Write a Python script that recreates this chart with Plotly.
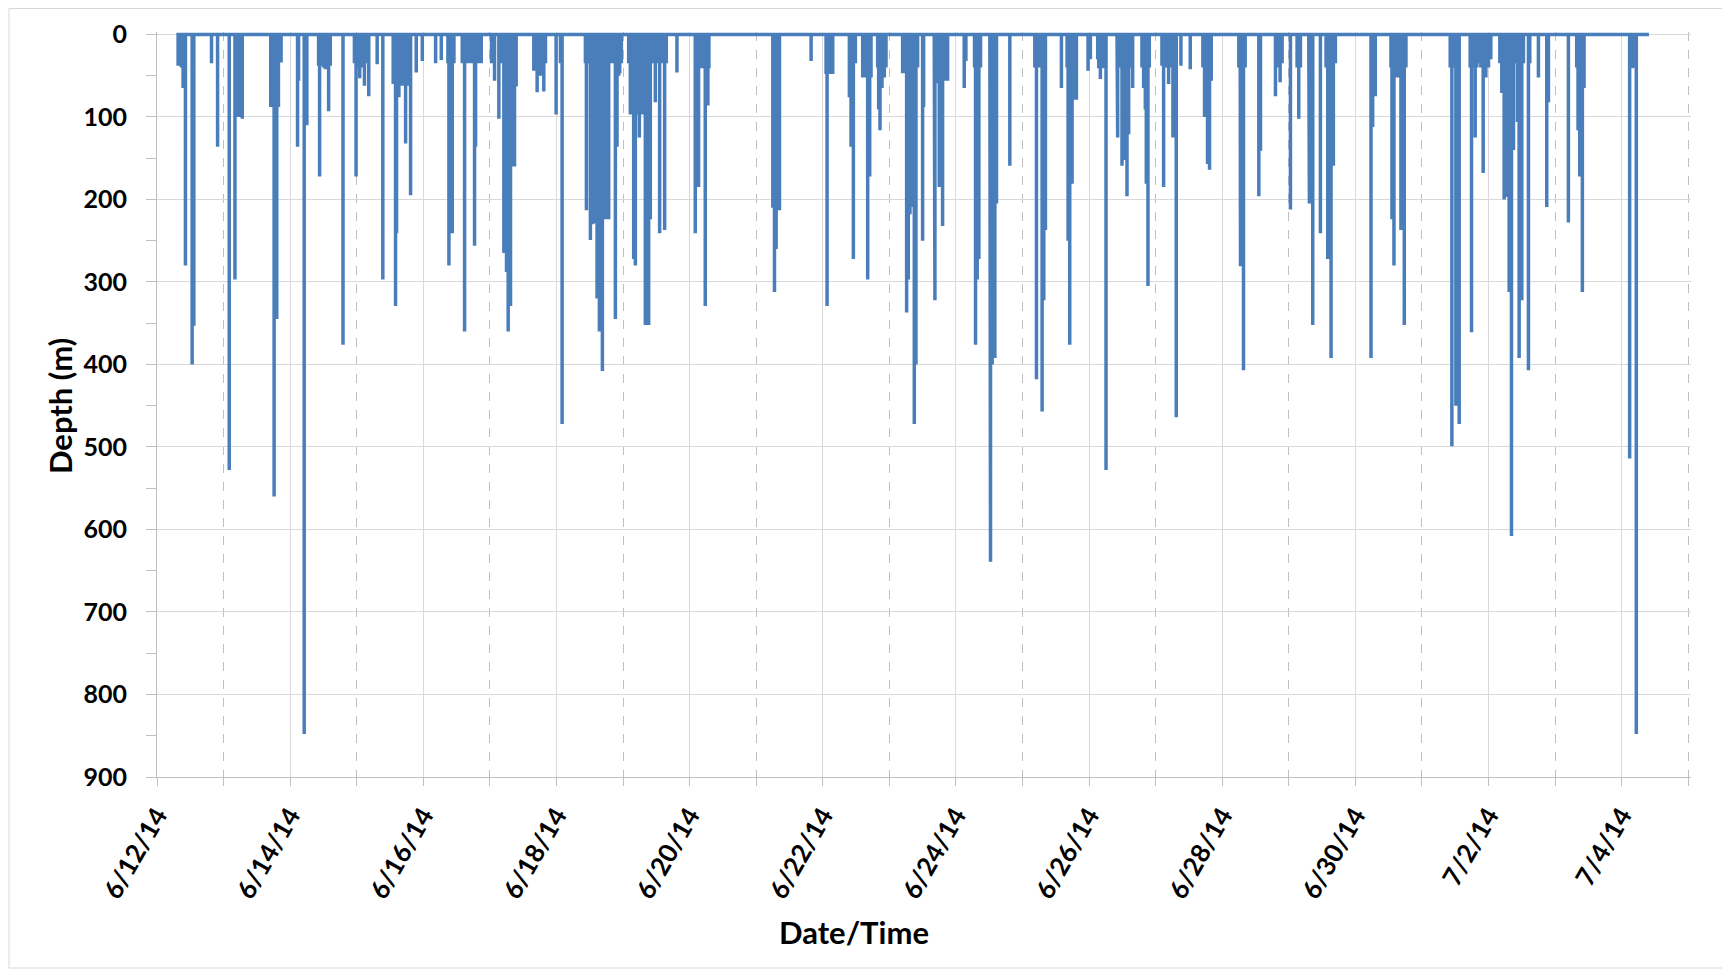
import pandas as pd
import plotly.graph_objects as go

# ---------------- data ----------------
start_date = "2014-06-12"
record_start_day = 0.30      # first surface sample (days after start_date)
record_end_day = 22.41       # last surface sample

# dive times (days after 6/12/14 00:00) and max depth of each dive (m)
dive_day = [
    0.317, 0.342, 0.367, 0.392, 0.412, 0.427, 0.528, 0.553, 0.819, 0.910,
    1.085, 1.171, 1.196, 1.226, 1.256, 1.281, 1.709, 1.734, 1.759, 1.799,
    1.824, 1.864, 2.111, 2.126, 2.211, 2.251, 2.427, 2.442, 2.477, 2.503,
    2.528, 2.553, 2.578, 2.603, 2.794, 2.965, 2.990, 3.015, 3.045, 3.080,
    3.116, 3.146, 3.181, 3.307, 3.392, 3.548, 3.583, 3.598, 3.633, 3.668,
    3.698, 3.734, 3.759, 3.809, 3.894, 3.985,
    4.185, 4.270, 4.370, 4.385, 4.410, 4.435, 4.460, 4.585, 4.620, 4.650,
    4.685, 4.710, 4.740, 4.770, 4.785, 4.810, 4.840, 4.870, 5.025, 5.070,
    5.135, 5.160, 5.185, 5.210, 5.250, 5.275, 5.310, 5.340, 5.370, 5.395,
    5.660, 5.685, 5.710, 5.735, 5.760, 5.785, 5.810, 5.835, 5.995, 6.060,
    6.085, 6.435, 6.450, 6.475, 6.485, 6.510, 6.535, 6.560, 6.585, 6.610,
    6.645, 6.665, 6.690, 6.725, 6.760, 6.785, 6.810, 6.860, 6.885, 6.910,
    6.935, 6.950, 6.975, 7.085, 7.110, 7.135, 7.160, 7.185, 7.210, 7.245,
    7.270, 7.300, 7.335, 7.360, 7.385, 7.410, 7.435, 7.485, 7.510, 7.550,
    7.585, 7.625, 7.650, 7.810, 8.085, 8.135,
    8.175, 8.200, 8.235, 8.260, 8.275, 8.290, 9.250, 9.275, 9.300, 9.325,
    9.350, 9.825, 10.050, 10.065, 10.090, 10.120, 10.150, 10.400, 10.425, 10.460,
    10.490, 10.600, 10.625, 10.650, 10.675, 10.705, 10.725, 10.825, 10.840, 10.860,
    10.890, 10.925, 10.950, 11.200, 11.225, 11.240, 11.260, 11.285, 11.310, 11.340,
    11.375, 11.400, 11.425, 11.500, 11.515, 11.675, 11.685, 11.710, 11.725, 11.750,
    11.775, 11.800, 11.825, 11.850, 11.875, 12.125, 12.150,
    12.280, 12.295, 12.320, 12.345, 12.370, 12.510, 12.520, 12.545, 12.570, 12.585,
    12.610, 12.810, 13.185, 13.210, 13.235, 13.270, 13.295, 13.320, 13.345, 13.585,
    13.670, 13.685, 13.710, 13.745, 13.770, 13.795, 13.810, 13.985, 14.020, 14.130,
    14.145, 14.170, 14.210, 14.255, 14.420, 14.430, 14.470, 14.495, 14.520, 14.545,
    14.570, 14.595, 14.620, 14.655, 14.795, 14.820, 14.845, 14.860, 14.885, 14.905,
    15.095, 15.120, 15.160, 15.195, 15.245, 15.260, 15.285, 15.310, 15.380, 15.520,
    15.710, 15.735, 15.760, 15.780, 15.810, 15.835, 16.270,
    16.250, 16.275, 16.300, 16.320, 16.345, 16.550, 16.575, 16.800, 16.835, 16.870,
    16.900, 17.025, 17.125, 17.150, 17.175, 17.300, 17.310, 17.335, 17.360, 17.475,
    17.560, 17.585, 17.610, 17.635, 17.670, 17.700, 18.235, 18.260, 18.300, 18.535,
    18.550, 18.580, 18.610, 18.635, 18.660, 18.685, 18.710, 18.735, 18.760, 19.425,
    19.450, 19.480, 19.510, 19.535, 19.560, 19.725, 19.745, 19.775, 19.800, 19.825,
    19.850, 19.885, 19.920, 19.960, 20.000, 20.035, 20.170, 20.235,
    20.185, 20.200, 20.285, 20.310, 20.345, 20.375, 20.420, 20.435, 20.460, 20.500,
    20.525, 20.600, 20.620, 20.750, 20.875, 20.900, 21.200, 21.325, 21.345, 21.370,
    21.410, 21.435, 22.120, 22.160, 22.185, 22.220,
]
dive_depth = [
    38, 38, 40, 65, 65, 280, 400, 353, 35, 136,
    528, 297, 100, 100, 100, 102, 88, 88, 560, 345,
    88, 34, 136, 56, 848, 110, 38, 172, 38, 40,
    42, 42, 93, 38, 376, 35, 172, 40, 53, 40,
    62, 35, 75, 36, 297, 60, 329, 241, 76, 62,
    62, 132, 62, 195, 46, 32,
    35, 31, 35, 280, 35, 241, 35, 35, 360, 35,
    35, 35, 35, 256, 136, 35, 35, 35, 35, 56,
    102, 35, 35, 265, 288, 360, 329, 160, 160, 63,
    44, 44, 70, 44, 50, 44, 69, 35, 97, 35,
    472, 35, 213, 35, 35, 249, 230, 229, 229, 320,
    360, 360, 408, 224, 224, 224, 35, 35, 345, 136,
    50, 47, 35, 35, 97, 97, 272, 280, 97, 125,
    97, 97, 352, 352, 352, 224, 35, 82, 35, 241,
    35, 237, 35, 46, 241, 185,
    41, 41, 329, 86, 86, 41, 210, 312, 260, 213,
    213, 32, 48, 329, 48, 48, 48, 76, 136, 272,
    35, 52, 52, 52, 297, 172, 52, 40, 91, 116,
    65, 52, 40, 47, 47, 47, 337, 297, 218, 209,
    472, 400, 40, 250, 88, 40, 322, 59, 59, 185,
    59, 232, 56, 56, 56, 65, 32,
    40, 376, 297, 272, 40, 40, 639, 400, 40, 392,
    205, 159, 40, 418, 40, 40, 457, 322, 237, 65,
    40, 250, 376, 181, 79, 79, 79, 44, 30, 30,
    41, 54, 41, 528, 40, 125, 40, 159, 152, 40,
    196, 121, 40, 65, 40, 65, 91, 181, 305, 40,
    38, 185, 40, 60, 40, 125, 100, 464, 38, 42,
    40, 100, 100, 157, 164, 56, 165,
    40, 281, 40, 407, 40, 196, 141, 75, 40, 58,
    35, 212, 40, 102, 40, 40, 205, 40, 352, 241,
    40, 272, 40, 392, 159, 35, 392, 112, 75, 40,
    224, 280, 52, 52, 52, 237, 52, 352, 40, 40,
    499, 40, 450, 40, 472, 40, 361, 40, 125, 40,
    35, 40, 168, 52, 40, 30, 35, 200,
    35, 71, 197, 312, 608, 140, 35, 106, 392, 322,
    35, 407, 35, 52, 209, 82, 228, 40, 116, 172,
    312, 65, 514, 41, 40, 848,
]

x_range = ["2014-06-12", "2014-07-05 01:00"]
y_ticks = [0, 100, 200, 300, 400, 500, 600, 700, 800, 900]
x_title = "Date/Time"
y_title = "Depth (m)"

# ---------------- build the depth trace ----------------
t0 = pd.Timestamp(start_date)
dives = sorted(zip(dive_day, dive_depth))
xs = [t0 + pd.to_timedelta(record_start_day, unit="D")]
ys = [0]
for d, depth in dives:
    t = t0 + pd.to_timedelta(d, unit="D")
    xs += [t, t, t]
    ys += [0, depth, 0]
xs.append(t0 + pd.to_timedelta(record_end_day, unit="D"))
ys.append(0)

DAY_MS = 86400000
FONT = "Lato"
BLUE = "#4A7EBB"

fig = go.Figure()
fig.add_trace(go.Scatter(
    x=xs, y=ys, mode="lines",
    line=dict(color=BLUE, width=3.5),
    hoverinfo="skip", showlegend=False,
))

OFF = 8                      # page body margin
W, H = 1722, 964
L, R, T = 149, 39, 24
ph = 745
B = H - T - ph
pw = W - L - R


def px(xf):                  # screen x -> paper x
    return (xf - OFF - L) / pw


def py(yf):                  # screen y -> paper y
    return (OFF + T + ph - yf) / ph


fig.update_layout(
    width=W, height=H,
    margin=dict(l=L, r=R, t=T, b=B, pad=0),
    paper_bgcolor="white", plot_bgcolor="white",
    font=dict(family=FONT, color="#000000"),
    showlegend=False,
)

fig.update_xaxes(
    type="date", range=x_range,
    tick0=start_date, dtick=2 * DAY_MS, tickformat="%-m/%-d/%y",
    tickangle=-60,
    tickfont=dict(family=FONT, size=26, weight="bold", color="#000000"),
    ticks="outside", ticklen=8, tickcolor="#BFBFBF", tickwidth=1,
    ticklabelstandoff=4,
    showgrid=True, gridcolor="#D9D9D9", gridwidth=1,
    showline=True, linecolor="#BFBFBF", linewidth=1,
    zeroline=False, automargin=False,
    minor=dict(dtick=DAY_MS, tick0=start_date, showgrid=True, griddash="dash",
               gridcolor="#BFBFBF", gridwidth=1, ticks="outside", ticklen=8,
               tickcolor="#BFBFBF"),
)

fig.update_yaxes(
    range=[900, -3],
    tickvals=y_ticks,
    tickfont=dict(family=FONT, size=25, weight="bold", color="#000000"),
    ticks="outside", ticklen=10, tickcolor="#BFBFBF", tickwidth=1,
    ticklabelstandoff=14,
    showgrid=True, gridcolor="#D9D9D9", gridwidth=1,
    showline=True, linecolor="#BFBFBF", linewidth=1,
    zeroline=False, automargin=False,
    minor=dict(dtick=50, tick0=0, ticks="outside", ticklen=10, tickcolor="#BFBFBF",
               showgrid=False),
)

# axis titles
fig.add_annotation(
    text=x_title, xref="paper", yref="paper",
    x=px(854), y=py(932),
    xanchor="center", yanchor="middle", showarrow=False,
    font=dict(family=FONT, size=31, weight="bold", color="#000000"),
)
fig.add_annotation(
    text=y_title, xref="paper", yref="paper",
    x=px(60), y=py(406), textangle=-90,
    xanchor="center", yanchor="middle", showarrow=False,
    font=dict(family=FONT, size=31, weight="bold", color="#000000"),
)

# chart-area border
fig.add_shape(
    type="rect", xref="paper", yref="paper",
    x0=px(9), x1=px(1727),
    y0=py(968), y1=py(8.5),
    line=dict(color="#D9D9D9", width=1), fillcolor="rgba(0,0,0,0)", layer="below",
)

fig.write_html("out.html")
